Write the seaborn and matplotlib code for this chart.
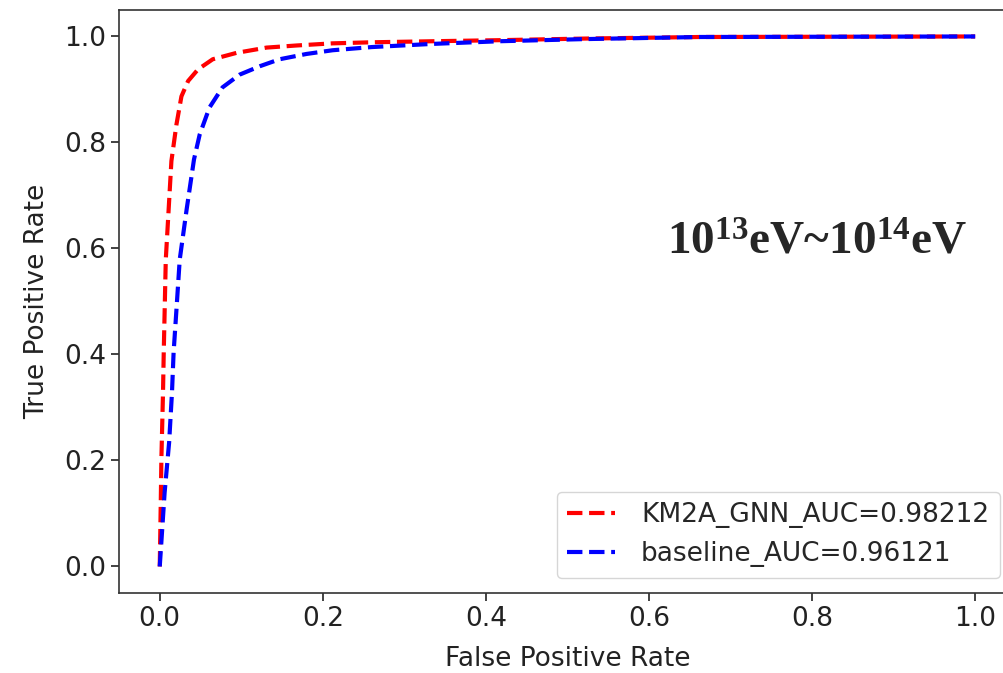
import matplotlib

matplotlib.use("Agg")

import matplotlib.pyplot as plt
import pandas as pd
import seaborn as sns

# ROC curves
gnn_fpr = [0.0, 0.0013, 0.002, 0.004, 0.0049, 0.0074, 0.0143, 0.0205, 0.0266,
           0.0348, 0.047, 0.065, 0.094, 0.131, 0.168, 0.212, 0.26, 0.335,
           0.417, 0.52, 0.663, 1.0]
gnn_tpr = [0.0, 0.126, 0.202, 0.328, 0.404, 0.579, 0.765, 0.834, 0.887,
           0.916, 0.938, 0.957, 0.969, 0.979, 0.983, 0.987, 0.989, 0.991,
           0.993, 0.996, 0.999, 1.0]
base_fpr = [0.0, 0.006, 0.0115, 0.015, 0.017, 0.0205, 0.0245, 0.033, 0.042,
            0.049, 0.061, 0.077, 0.098, 0.123, 0.147, 0.18, 0.212, 0.26,
            0.335, 0.417, 0.52, 0.663, 1.0]
base_tpr = [0.0, 0.14, 0.234, 0.328, 0.404, 0.485, 0.579, 0.674, 0.768,
            0.815, 0.866, 0.904, 0.928, 0.944, 0.957, 0.967, 0.974, 0.980,
            0.986, 0.991, 0.995, 0.999, 1.0]
labels = ["KM2A_GNN_AUC=0.98212", "baseline_AUC=0.96121"]
colors = ["red", "blue"]
ticks = [0.0, 0.2, 0.4, 0.6, 0.8, 1.0]

roc = pd.concat(
    [
        pd.DataFrame({"fpr": gnn_fpr, "tpr": gnn_tpr, "model": labels[0]}),
        pd.DataFrame({"fpr": base_fpr, "tpr": base_tpr, "model": labels[1]}),
    ],
    ignore_index=True,
)

sns.set_theme(style="ticks")
plt.rcParams.update(
    {
        "font.family": ["DejaVu Sans"],
        "mathtext.fontset": "custom",
        "mathtext.rm": "Liberation Serif:bold",
        "mathtext.it": "Liberation Serif:bold",
        "mathtext.bf": "Liberation Serif:bold",
    }
)

fig = plt.figure(figsize=(10.04, 6.73), dpi=100)
ax = fig.add_axes([0.1185, 0.1189, 0.8934, 0.8663])

sns.lineplot(
    data=roc,
    x="fpr",
    y="tpr",
    hue="model",
    hue_order=labels,
    palette=colors,
    sort=False,
    estimator=None,
    linewidth=3,
    ax=ax,
)
for line in ax.lines:
    line.set_linestyle("--")

ax.set_xlim(-0.05, 1.05)
ax.set_ylim(-0.05, 1.05)
ax.set_xticks(ticks)
ax.set_yticks(ticks)
ax.tick_params(labelsize=19, length=6, width=1.2, colors="#222222")
for spine in ax.spines.values():
    spine.set_linewidth(1.2)
    spine.set_color("#333333")
ax.set_xlabel("False Positive Rate", fontsize=19, color="#222222", labelpad=10)
ax.set_ylabel("True Positive Rate", fontsize=19, color="#222222", labelpad=10)

leg = ax.legend(loc="lower right", fontsize=19, handlelength=1.8,
                handletextpad=1.0, bbox_to_anchor=(0.982, 0.026),
                borderaxespad=0.0)
for h in leg.get_lines():
    h.set_linestyle("--")
    h.set_linewidth(3)

ax.text(0.611, 0.6, "$10^{13}$eV~$10^{14}$eV", transform=ax.transAxes,
        fontsize=34, fontweight="bold", family="Liberation Serif",
        va="center", ha="left")

fig.savefig("out.png", dpi=100)
